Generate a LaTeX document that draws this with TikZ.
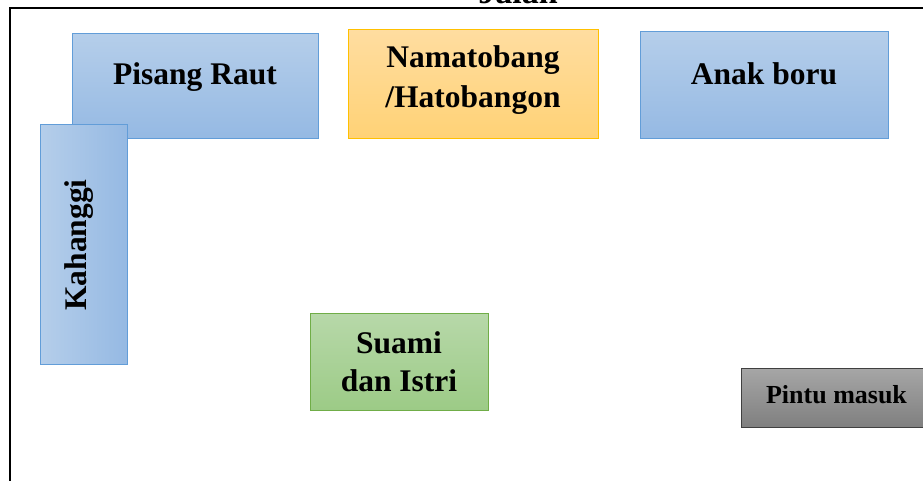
\documentclass[tikz,border=0pt]{standalone}
\usepackage{fontspec}
\setmainfont{Liberation Serif}
\definecolor{bluetop}{RGB}{181,206,234}
\definecolor{bluebot}{RGB}{149,185,227}
\definecolor{blueline}{RGB}{98,157,216}
\definecolor{orangetop}{RGB}{255,221,160}
\definecolor{orangebot}{RGB}{255,210,118}
\definecolor{orangeline}{RGB}{255,192,0}
\definecolor{greentop}{RGB}{183,216,169}
\definecolor{greenbot}{RGB}{156,203,134}
\definecolor{greenline}{RGB}{112,173,71}
\definecolor{graytop}{RGB}{166,166,166}
\definecolor{graybot}{RGB}{127,127,127}
\definecolor{grayline}{RGB}{64,64,64}
\tikzset{
  box/.style={draw, line width=1.1pt, inner sep=0pt, anchor=north west},
  bluebox/.style={box, draw=blueline, top color=bluetop, bottom color=bluebot},
  orangebox/.style={box, draw=orangeline, top color=orangetop, bottom color=orangebot},
  greenbox/.style={box, draw=greenline, top color=greentop, bottom color=greenbot},
  graybox/.style={box, draw=grayline, top color=graytop, bottom color=graybot},
  lbl/.style={anchor=base, inner sep=0pt, font=\fontsize{31.5}{38}\selectfont\bfseries},
  smalllbl/.style={anchor=base, inner sep=0pt, font=\fontsize{26}{31}\selectfont\bfseries},
  frame/.style={line width=2pt, black}
}
\begin{document}
\begin{tikzpicture}[x=1pt,y=-1pt]
\useasboundingbox (0,0) rectangle (923,481);
% outer border of the hall
\coordinate (fb) at (10,482);
\coordinate (fc) at (10,8.5);
\coordinate (fr) at (925,8.5);
\draw[frame] (fb) -- (fc) -- (fr);
\node[lbl, font=\fontsize{34}{40}\selectfont\bfseries] (jalan) at (518,4) {Jalan};
% seating blocks
\node[bluebox, minimum width=246pt, minimum height=105pt] (pisang) at (72,33) {};
\node[bluebox, minimum width=87pt, minimum height=240pt, shading angle=90, left color=bluetop, right color=bluebot] (kahanggi) at (40,124) {};
\node[orangebox, minimum width=250pt, minimum height=109pt] (namatobang) at (348,29) {};
\node[bluebox, minimum width=248pt, minimum height=107pt] (anakboru) at (640,31) {};
\node[greenbox, minimum width=178pt, minimum height=97pt] (suami) at (310,313) {};
\node[graybox, minimum width=190pt, minimum height=59pt] (pintu) at (741,368) {};
% labels
\node[lbl] (tpisang) at (195,85) {Pisang Raut};
\node[lbl, rotate=90] (tkahanggi) at (86,245) {Kahanggi};
\node[lbl] (tnama1) at (473,68) {Namatobang};
\node[lbl] (tnama2) at (473,108) {/Hatobangon};
\node[lbl] (tanak) at (764,85) {Anak boru};
\node[lbl] (tsuami1) at (399,353) {Suami};
\node[lbl] (tsuami2) at (399,391) {dan Istri};
\node[smalllbl] (tpintu) at (836.5,403) {Pintu masuk};
\end{tikzpicture}
\end{document}
